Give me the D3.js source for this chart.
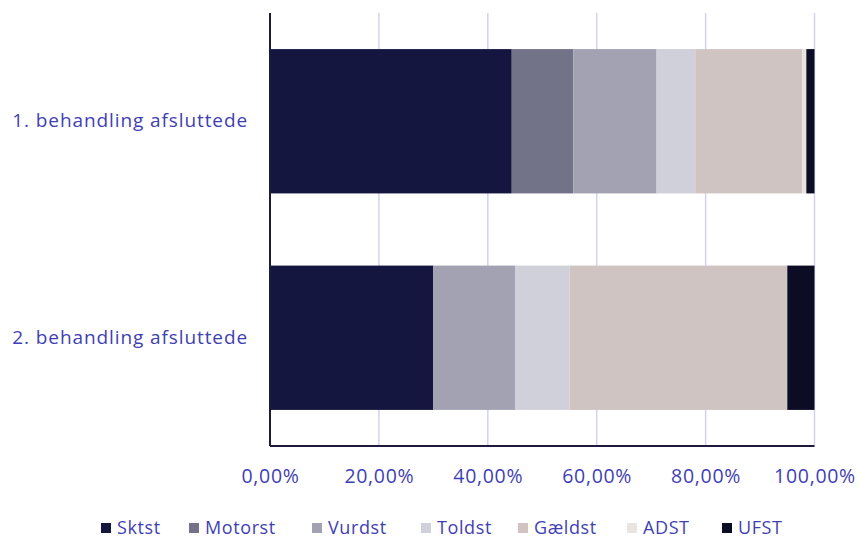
<!DOCTYPE html>
<html>
<head>
<meta charset="utf-8">
<script src="https://cdn.jsdelivr.net/npm/d3@7"></script>
<style>
  html, body { margin: 0; padding: 0; background: #ffffff; }
  svg text { font-family: "Open Sans", sans-serif; }
</style>
</head>
<body>
<svg id="chart" width="858" height="539"></svg>
<script>
// Categories (rows) and series (stack segments), shares in percent
const categories = ["1. behandling afsluttede", "2. behandling afsluttede"];
const seriesNames = ["Sktst", "Motorst", "Vurdst", "Toldst", "Gældst", "ADST", "UFST"];
const sktst   = [44.4, 30.0];
const motorst = [11.3, 0.0];
const vurdst  = [15.3, 15.0];
const toldst  = [7.1, 10.0];
const gaeldst = [19.6, 40.0];
const adst    = [0.8, 0.0];
const ufst    = [1.5, 5.0];
const tickValues = [0, 20, 40, 60, 80, 100];
const tickLabels = ["0,00%", "20,00%", "40,00%", "60,00%", "80,00%", "100,00%"];
const colors = ["#15163f", "#727289", "#a2a2b2", "#d0d0da", "#d0c4c2", "#e8e4e2", "#0c0d24"];

const seriesValues = [sktst, motorst, vurdst, toldst, gaeldst, adst, ufst];
const rows = categories.map((c, i) => {
  const r = { category: c };
  seriesNames.forEach((s, k) => { r[s] = seriesValues[k][i]; });
  return r;
});

const textColor = "#3f3fb3";
const fontFamily = "'Open Sans', sans-serif";
const svg = d3.select("#chart");
const margin = { left: 270, right: 43.5, top: 13, bottom: 93 };
const width = 858 - margin.left - margin.right;
const height = 539 - margin.top - margin.bottom;

const x = d3.scaleLinear().domain([0, 100]).range([0, width]);
const y = d3.scaleBand().domain(categories).range([0, height]).paddingInner(1 / 3).paddingOuter(1 / 6);
const color = d3.scaleOrdinal().domain(seriesNames).range(colors);

const g = svg.append("g").attr("transform", `translate(${margin.left},${margin.top})`);

// vertical gridlines
g.append("g")
  .selectAll("line")
  .data(tickValues.slice(1))
  .join("line")
  .attr("x1", d => x(d)).attr("x2", d => x(d))
  .attr("y1", 0).attr("y2", height)
  .attr("stroke", "#d3d2f0")
  .attr("stroke-width", 1.5);

// stacked bars
const stacked = d3.stack().keys(seriesNames)(rows);
g.append("g")
  .selectAll("g")
  .data(stacked)
  .join("g")
  .attr("fill", d => color(d.key))
  .selectAll("rect")
  .data(d => d)
  .join("rect")
  .attr("x", d => x(d[0]))
  .attr("width", d => Math.max(0, x(d[1]) - x(d[0])))
  .attr("y", d => y(d.data.category))
  .attr("height", y.bandwidth());

// axes lines
g.append("line")
  .attr("x1", 0).attr("x2", 0).attr("y1", 0).attr("y2", height)
  .attr("stroke", "#1c1c3a").attr("stroke-width", 2);
g.append("line")
  .attr("x1", 0).attr("x2", width).attr("y1", height).attr("y2", height)
  .attr("stroke", "#1c1c3a").attr("stroke-width", 2);

// x axis tick labels
const xAxis = d3.axisBottom(x)
  .tickValues(tickValues)
  .tickFormat((d, i) => tickLabels[i])
  .tickSize(0)
  .tickPadding(23);
const xg = g.append("g").attr("transform", `translate(0,${height})`).call(xAxis);
xg.select(".domain").remove();
xg.selectAll("text")
  .attr("fill", textColor)
  .style("font-size", "19.5px")
  .style("letter-spacing", "0.7px")
  .style("font-family", fontFamily);

// y axis category labels
const yAxis = d3.axisLeft(y).tickSize(0).tickPadding(22);
const yg = g.append("g").call(yAxis);
yg.select(".domain").remove();
yg.selectAll("text")
  .attr("fill", textColor)
  .style("font-size", "19px")
  .style("letter-spacing", "0.9px")
  .style("font-family", fontFamily);

// legend
const legendX = [101, 189, 312, 421, 518, 627, 722];
const legend = svg.append("g").attr("transform", "translate(0,528)");
const items = legend.selectAll("g")
  .data(seriesNames)
  .join("g")
  .attr("transform", (d, i) => `translate(${legendX[i]},0)`);
items.append("rect")
  .attr("x", 0).attr("y", -5).attr("width", 10).attr("height", 10)
  .attr("fill", d => color(d));
items.append("text")
  .attr("x", 16).attr("y", 5.5)
  .attr("fill", textColor)
  .style("font-size", "18px")
  .style("letter-spacing", "0.6px")
  .style("font-family", fontFamily)
  .text(d => d);
</script>
</body>
</html>
